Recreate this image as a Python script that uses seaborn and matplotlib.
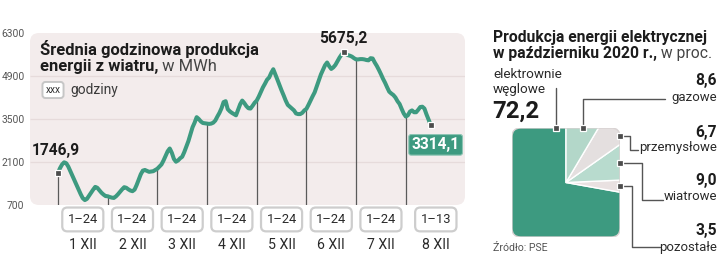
import numpy as np
import pandas as pd
import matplotlib
matplotlib.use("Agg")
import matplotlib.pyplot as plt
import seaborn as sns
from matplotlib.patches import FancyBboxPatch
from matplotlib import font_manager

# ---------------- data ----------------
day1 = [1746.9, 1900, 2020, 2090, 2060, 1950, 1800, 1650, 1500, 1350, 1200, 1050,
        920, 860, 900, 1000, 1100, 1200, 1290, 1260, 1180, 1100, 1040, 990]
day2 = [985, 960, 940, 930, 980, 1050, 1130, 1210, 1280, 1260, 1210, 1170,
        1150, 1200, 1350, 1530, 1700, 1820, 1840, 1810, 1780, 1790, 1800, 1840]
day3 = [1880, 1950, 2020, 2150, 2300, 2450, 2540, 2400, 2200, 2110, 2150, 2220,
        2270, 2420, 2600, 2780, 3000, 3230, 3380, 3560, 3500, 3420, 3370, 3360]
day4 = [3350, 3340, 3350, 3380, 3450, 3580, 3700, 3850, 4050, 4080, 3820, 3750,
        3700, 3660, 3620, 3800, 3980, 4100, 4020, 3920, 3850, 3840, 3930, 4030]
day5 = [4100, 4230, 4380, 4530, 4650, 4780, 4850, 5000, 5120, 4950, 4780, 4600,
        4430, 4270, 4100, 3960, 3900, 3840, 3780, 3680, 3660, 3660, 3700, 3780]
day6 = [3830, 3960, 4100, 4240, 4370, 4560, 4760, 4950, 5100, 5250, 5340, 5220,
        5130, 5180, 5260, 5380, 5500, 5600, 5675.2, 5620, 5580, 5560, 5530, 5480]
day7 = [5440, 5440, 5450, 5450, 5440, 5420, 5410, 5480, 5470, 5340, 5230, 5100,
        4960, 4810, 4680, 4530, 4390, 4330, 4280, 4200, 4080, 3990, 3830, 3680]
day8 = [3580, 3620, 3740, 3780, 3720, 3720, 3800, 3890, 3900, 3840, 3650, 3480, 3314.1]

day_names = ["1 XII", "2 XII", "3 XII", "4 XII", "5 XII", "6 XII", "7 XII", "8 XII"]
hour_ranges = ["1–24", "1–24", "1–24", "1–24", "1–24", "1–24", "1–24", "1–13"]
y_ticks = [700, 2100, 3500, 4900, 6300]

pie_names = ["elektrownie\nwęglowe", "pozostałe", "wiatrowe", "przemysłowe", "gazowe"]
pie_values = [72.2, 3.5, 9.0, 6.7, 8.6]

# ---------------- style ----------------
sns.set_theme(style="white")
names = {f.name for f in font_manager.fontManager.ttflist}
FONT = "Liberation Sans Narrow" if "Liberation Sans Narrow" in names else "Roboto"
plt.rcParams["font.family"] = [FONT, "DejaVu Sans"]
NARROW = FONT == "Liberation Sans Narrow"
S = 1.0 if NARROW else 0.86

TEAL = "#3d9a80"
PANEL = "#f3ecec"
DARK = "#1c1c1c"
GREY = "#555555"

days = [day1, day2, day3, day4, day5, day6, day7, day8]
values = np.concatenate([np.asarray(d, float) for d in days])
hours = np.arange(len(values))
df = pd.DataFrame({"h": hours, "v": values})
starts = np.cumsum([0] + [len(d) for d in days[:-1]])
centers = starts + 12.0
centers[-1] = starts[-1] + 14.5

W, H = 720, 269
fig = plt.figure(figsize=(W / 100, H / 100), dpi=100)

# panel layer (behind everything)
panel_ax = fig.add_axes([0, 0, 1, 1], zorder=-1)
panel_ax.set_xlim(0, W)
panel_ax.set_ylim(H, 0)
panel_ax.axis("off")
panel_ax.add_patch(FancyBboxPatch((30, 33), 435, 172,
                                  boxstyle="round,pad=0,rounding_size=9",
                                  fc=PANEL, ec="none"))

# ---------------- line chart ----------------
ax = fig.add_axes([30 / W, (H - 205) / H, 435 / W, 172 / H], zorder=1)
ax.patch.set_visible(False)
ax.set_xlim(-13.5, 196.6)
ax.set_ylim(700, 6300)
for s in ax.spines.values():
    s.set_visible(False)

ax.hlines(y_ticks[1:-1], -13.5, 196.6, color="#e6dbdb", lw=0.9, zorder=0.5)
ax.vlines(starts, y_ticks[0], values[starts], color="#5a5a5a", lw=0.9, zorder=2)

sns.lineplot(data=df, x="h", y="v", ax=ax, color=TEAL, lw=2.9, zorder=3,
             solid_joinstyle="round", solid_capstyle="round")

peak = int(np.argmax(values))
mk = [0, peak, len(values) - 1]
ax.plot(hours[mk], values[mk], ls="none", marker="s", ms=4.2, mfc="#4d4d4d",
        mec="white", mew=0.9, zorder=4)


def fmt(v):
    return f"{v:.1f}".replace(".", ",")


ax.annotate(fmt(values[0]), (hours[0], values[0]), xytext=(-1.5, 16),
            textcoords="offset points", ha="center", va="center",
            fontsize=13 * S, fontweight="bold", color=DARK, zorder=5)
ax.annotate(fmt(values[peak]), (hours[peak], values[peak]), xytext=(0, 9.5),
            textcoords="offset points", ha="center", va="center",
            fontsize=13 * S, fontweight="bold", color=DARK, zorder=5)
ax.annotate(fmt(values[-1]), (hours[-1], values[-1]), xytext=(3.6, -14.5),
            textcoords="offset points", ha="center", va="center",
            fontsize=13 * S, fontweight="bold", color="white", zorder=5,
            bbox=dict(boxstyle="round,pad=0.18,rounding_size=0.15", fc=TEAL,
                      ec="#8cc4b3", lw=0.8))

ax.set_yticks(y_ticks)
ax.set_yticklabels([str(t) for t in y_ticks])
ax.tick_params(axis="y", length=0, pad=4, labelsize=8.6 * S, labelcolor=GREY)
ax.set_xticks(centers)
ax.set_xticklabels(day_names)
ax.tick_params(axis="x", length=0, pad=24, labelsize=11.8 * S, labelcolor="#2a2a2a")
ax.set_xlabel("")
ax.set_ylabel("")

xt = ax.get_xaxis_transform()
for c, r in zip(centers, hour_ranges):
    ax.text(c, -0.084, r, transform=xt, ha="center", va="center",
            fontsize=10.8 * S, color="#2a2a2a", zorder=5,
            bbox=dict(boxstyle="round,pad=0.42,rounding_size=0.4", fc="white",
                      ec="#cdcdcd", lw=1.6))

# annotation layer in pixel coordinates
bg = fig.add_axes([0, 0, 1, 1], zorder=2)
bg.set_xlim(0, W)
bg.set_ylim(H, 0)
bg.axis("off")
bg.patch.set_visible(False)

# titles left
bg.text(40, 54.5, "Średnia godzinowa produkcja", fontsize=13.8 * S,
        fontweight="bold", color=DARK, va="baseline")
t2 = bg.text(40, 71, "energii z wiatru,", fontsize=13.8 * S,
             fontweight="bold", color=DARK, va="baseline")
bg.annotate(" w MWh", xy=(1, 0), xycoords=t2, va="bottom", ha="left",
            fontsize=13.8 * S, color="#444444")
bg.text(53, 90, "xxx", fontsize=8.5 * S, ha="center", va="center", color="#333333",
        bbox=dict(boxstyle="round,pad=0.3,rounding_size=0.3", fc="white",
                  ec="#c6c6c6", lw=1.4))
bg.text(70, 90, "godziny", fontsize=11.5 * S, va="center", color="#3a3a3a")

# ---------------- pie chart ----------------
pax = fig.add_axes([512 / W, (H - 237) / H, 108 / W, 109 / H], zorder=1)
pie_colors = [TEAL, "#e9e1e1", "#b8dbce", "#e4dfdf", "#b3d7c9"]
wedges, _ = pax.pie(pie_values, colors=pie_colors, startangle=90,
                    counterclock=True, radius=1.6,
                    wedgeprops=dict(edgecolor="white", linewidth=1.0))
pax.set_aspect("auto")
pax.set_xlim(-1, 1)
pax.set_ylim(-1, 1)
pax.axis("off")
clip = FancyBboxPatch((-1, -1), 2, 2, boxstyle="round,pad=0,rounding_size=0.16",
                      fc="none", ec="#d8d2d2", lw=1.0, transform=pax.transData)
pax.add_patch(clip)
for w in wedges:
    w.set_clip_on(True)
    w.set_clip_path(clip)

# markers on the pie edge and leaders (pixel positions)
marker_px = [(556, 127.5), (619.5, 186), (619.5, 163), (619.5, 136), (583, 127.5)]
LC = "#555555"
bg.plot([556, 556], [127, 88], color=LC, lw=1.0)
bg.plot([583, 583, 665], [127, 99, 99], color=LC, lw=1.0)
bg.plot([619.5, 630, 630, 638], [136, 136, 150, 150], color=LC, lw=1.0)
bg.plot([619.5, 642, 642, 663], [163, 163, 200, 200], color=LC, lw=1.0)
bg.plot([619.5, 632, 632, 660], [186, 186, 247, 247], color=LC, lw=1.0)
for (mx, my) in marker_px:
    bg.plot(mx, my, marker="s", ms=4.2, mfc="#4d4d4d", mec="white", mew=0.9)

# labels right
bg.text(493, 74, "elektrownie", fontsize=11.3 * S, va="center", color="#2a2a2a")
bg.text(493, 89, "węglowe", fontsize=11.3 * S, va="center", color="#2a2a2a")
bg.text(492, 111, fmt(pie_values[0]), fontsize=20 * S, fontweight="bold",
        va="center", color=DARK)

num_y = {"gazowe": 81, "przemysłowe": 132, "wiatrowe": 181, "pozostałe": 231}
for name, val in zip(pie_names[1:], pie_values[1:]):
    y0 = num_y[name]
    bg.text(717, y0, fmt(val), fontsize=13 * S, fontweight="bold",
            ha="right", va="center", color=DARK)
    bg.text(717, y0 + 16, name, fontsize=11 * S, ha="right", va="center",
            color="#2a2a2a")

bg.text(493, 42, "Produkcja energii elektrycznej", fontsize=13.1 * S,
        fontweight="bold", color=DARK, va="baseline")
t4 = bg.text(493, 58, "w październiku 2020 r.,", fontsize=13.1 * S,
             fontweight="bold", color=DARK, va="baseline")
bg.annotate(" w proc.", xy=(1, 0), xycoords=t4, va="bottom", ha="left",
            fontsize=13.1 * S, color="#444444")
bg.text(493, 248, "Źródło: PSE", fontsize=8.8 * S, va="center", color="#555555")

fig.savefig("out.png", dpi=100)
